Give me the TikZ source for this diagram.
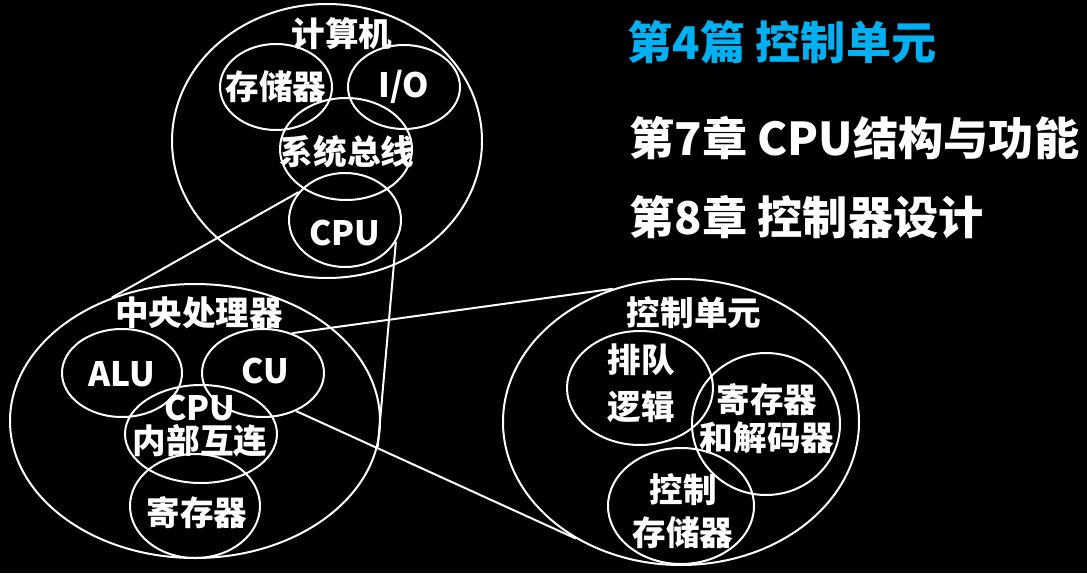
\documentclass[tikz,border=0pt]{standalone}
\usepackage{fontspec}
\setmainfont{Noto Sans CJK SC}
\usetikzlibrary{shapes.geometric}
\definecolor{titlecyan}{HTML}{00B0F0}
\tikzset{
  ring/.style 2 args={ellipse, draw=white, line width=1pt, inner sep=0pt,
    minimum width=#1*1pt, minimum height=#2*1pt},
  lbl/.style={text=white, font=\bfseries\fontsize{16.8}{16.5}\selectfont, inner sep=0pt, align=center},
  link/.style={draw=white, line width=1pt},
  heading/.style={anchor=west, inner sep=0pt, font=\bfseries\fontsize{22.6}{22}\selectfont}
}
\begin{document}
\begin{tikzpicture}[x=0.5pt, y=-0.5pt]
  \fill[black] (0,0) rectangle (1087,573);
  \useasboundingbox (0,0) rectangle (1087,573);

  % computer
  \node[ring={155}{137}] (comp) at (327,141) {};
  \node[ring={56}{43}] (mem) at (276,87) {};
  \node[ring={56}{42}] (io) at (404,87) {};
  \node[ring={66}{51}] (bus) at (346,149) {};
  \node[ring={56}{47}] (cpu) at (345,220) {};
  \node[lbl] (tcomp) at (342,34) {计算机};
  \node[lbl] (tmem) at (276,87) {存储器};
  \node[lbl] (tio) at (404,87) {I/O};
  \node[lbl] (tbus) at (347,152) {系统总线};
  \node[lbl] (tcpu) at (345,233) {CPU};

  % central processing unit
  \node[ring={185}{137}] (proc) at (195,421) {};
  \node[ring={60}{44}] (alu) at (122,373) {};
  \node[ring={61}{44}] (cu) at (263,373) {};
  \node[ring={76}{49}] (icn) at (201,434) {};
  \node[ring={65}{52}] (reg) at (195,506) {};
  \node[lbl] (tproc) at (199,313) {中央处理器};
  \node[lbl] (talu) at (122,374) {ALU};
  \node[lbl] (tcu) at (265,371) {CU};
  \node[lbl] (ticn) at (200,426) {CPU\\内部互连};
  \node[lbl] (treg) at (197,513) {寄存器};

  % control unit
  \node[ring={178}{143}] (ctrl) at (681,422) {};
  \node[ring={73}{57}] (queue) at (640,388) {};
  \node[ring={74}{71}] (dec) at (766,424) {};
  \node[ring={73}{58}] (cmem) at (681,506) {};
  \node[lbl] (tctrl) at (694,313) {控制单元};
  \node[lbl, font=\bfseries\fontsize{16.8}{23.5}\selectfont] (tqueue) at (641,383) {排队\\逻辑};
  \node[lbl, font=\bfseries\fontsize{16.8}{19}\selectfont] (tdec) at (767,419) {寄存器\\和解码器};
  \node[lbl, font=\bfseries\fontsize{16.8}{21.5}\selectfont] (tcmem) at (683,511) {控制\\存储器};

  % zoom connectors
  \draw[link] (cpu.149) -- (proc.124);
  \draw[link] (cpu.337) -- (proc.352);
  \draw[link] (cu.54) -- (ctrl.117);
  \draw[link] (cu.311) -- (ctrl.228);

  % headings
  \node[heading, text=titlecyan] (h1) at (627,42) {第4篇 控制单元};
  \node[heading, text=white] (h2) at (629,138) {第7章 CPU结构与功能};
  \node[heading, text=white] (h3) at (629,217) {第8章 控制器设计};
\end{tikzpicture}
\end{document}
